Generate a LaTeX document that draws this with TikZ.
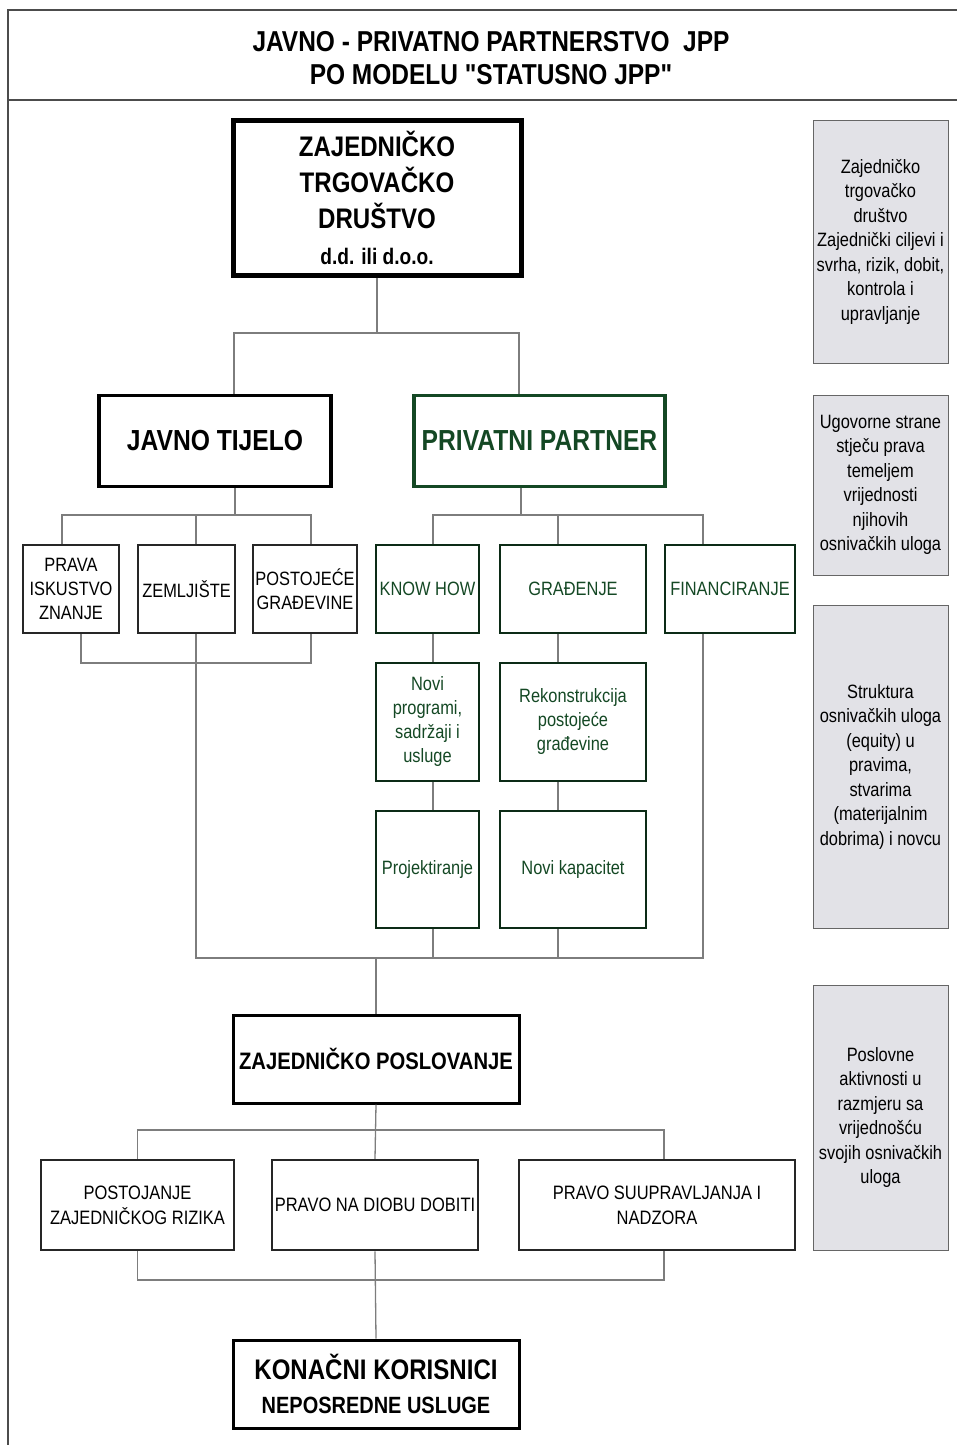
\documentclass[tikz,border=0pt]{standalone}
\usepackage{fontspec}
\setmainfont{Liberation Sans}[FakeStretch=0.85,Ligatures=TeXOff]
\usetikzlibrary{positioning}
\definecolor{ppgreen}{RGB}{20,72,36}
\definecolor{linkgray}{RGB}{125,125,125}
\definecolor{notefill}{RGB}{226,226,231}
\newcommand{\fs}[2]{\fontsize{#1}{#2}\selectfont}

\begin{document}
\begin{tikzpicture}[x=1pt,y=-1pt,
  link/.style={draw=linkgray,line width=1.3pt},
  box/.style={draw=black!85,line width=2pt,inner sep=1pt,align=center,font=\fs{19.3}{24}},
  gbox/.style={box,draw=ppgreen!60!black,text=ppgreen},
  head/.style={draw,line width=3.5pt,inner sep=1pt,align=center,font=\bfseries\fs{29}{34}},
  note/.style={draw=black!60,line width=1pt,fill=notefill,minimum width=135,align=center,font=\fs{19.3}{24.5}}]
\useasboundingbox (0,0) rectangle (957,1445);
% frame and title
\draw[black!70,line width=1.5pt] (957,10) -- (8,10) -- (8,1445);
\draw[black!70,line width=1.5pt] (8,100) -- (957,100);
\node[font=\bfseries\fs{28.8}{33},align=center] (title) at (491,58) {JAVNO - PRIVATNO PARTNERSTVO\ \ JPP\\PO MODELU "STATUSNO JPP"};

% company and founders
\node[head,line width=5pt,minimum width=288,minimum height=155,font=\bfseries\fs{28.3}{36}] (zto) at (377,197.5) {ZAJEDNIČKO\\TRGOVAČKO\\DRUŠTVO\\\fs{22.5}{35}d.d. ili d.o.o.};
\node[head,minimum width=232,minimum height=91] (jt) at (215,441) {JAVNO TIJELO};
\node[head,draw=ppgreen,text=ppgreen,minimum width=251,minimum height=91] (pp) at (539.5,441) {PRIVATNI PARTNER};

% public partner inputs
\node[box,minimum width=96,minimum height=88] (pis) at (71,589) {PRAVA\\ISKUSTVO\\ZNANJE};
\node[box,minimum width=97,minimum height=88] (zem) at (186.5,589) {ZEMLJIŠTE};
\node[box,minimum width=104,minimum height=88] (pgr) at (305,589) {POSTOJEĆE\\GRAĐEVINE};

% private partner inputs
\node[gbox,minimum width=103,minimum height=88] (kh) at (427.5,589) {KNOW HOW};
\node[gbox,minimum width=146,minimum height=88] (gr) at (573,589) {GRAĐENJE};
\node[gbox,minimum width=130,minimum height=88] (fin) at (730,589) {FINANCIRANJE};
\node[gbox,minimum width=103,minimum height=118,below=28pt of kh] (np) {Novi\\programi,\\sadržaji i\\usluge};
\node[gbox,minimum width=146,minimum height=118,below=28pt of gr] (rek) {Rekonstrukcija\\postojeće\\građevine};
\node[gbox,minimum width=103,minimum height=117,below=28pt of np] (pro) {Projektiranje};
\node[gbox,minimum width=146,minimum height=117,below=28pt of rek] (nk) {Novi kapacitet};

% joint business
\node[head,line width=3pt,minimum width=286,minimum height=88,font=\bfseries\fs{23.8}{30}] (zp) at (376,1059) {ZAJEDNIČKO POSLOVANJE};
\node[box,line width=2.5pt,minimum width=193,minimum height=90,font=\fs{19.4}{25}] (pzr) at (137.5,1205) {POSTOJANJE\\ZAJEDNIČKOG RIZIKA};
\node[box,line width=2.5pt,minimum width=206,minimum height=90,font=\fs{19.4}{25}] (pdd) at (375,1205) {PRAVO NA DIOBU DOBITI};
\node[box,line width=2.5pt,minimum width=276,minimum height=90,font=\fs{19.4}{25}] (psn) at (657,1205) {PRAVO SUUPRAVLJANJA I\\NADZORA};
\node[head,line width=3pt,minimum width=286,minimum height=88,font=\bfseries\fs{28.3}{34}] (kk) at (376,1384) {KONAČNI KORISNICI\\\fs{23.5}{34}NEPOSREDNE USLUGE};

% notes on the right
\node[note,minimum height=243] (n1) at (880.5,241.5) {Zajedničko\\trgovačko\\društvo\\Zajednički ciljevi i\\svrha, rizik, dobit,\\kontrola i\\upravljanje};
\node[note,minimum height=180] (n2) at (880.5,485) {Ugovorne strane\\stječu prava\\temeljem\\vrijednosti\\njihovih\\osnivačkih uloga};
\node[note,minimum height=323] (n3) at (880.5,766.5) {Struktura\\osnivačkih uloga\\(equity) u\\pravima,\\stvarima\\(materijalnim\\dobrima) i novcu};
\node[note,minimum height=265] (n4) at (880.5,1117.5) {Poslovne\\aktivnosti u\\razmjeru sa\\vrijednošću\\svojih osnivačkih\\uloga};

% junctions
\coordinate (busA) at (377,333);
\coordinate (busB) at (235,515);
\coordinate (busC) at (521,515);
\coordinate (busD) at (311,663);
\coordinate (busE) at (376,958);
\coordinate (busF) at (376,1130);
\coordinate (busG) at (376,1280);

% connectors
\draw[link] (zto.south) -- (busA);
\draw[link] ([xshift=19]jt.north) |- (busA) -| ([xshift=-20.5]pp.north);
\draw[link] ([xshift=20]jt.south) -- (busB);
\draw[link] ([xshift=-9]pis.north) |- (busB) -| ([xshift=6]pgr.north);
\draw[link] ([xshift=9.5]zem.north) -- ++(0,-30);
\draw[link] ([xshift=10]pis.south) |- (busD) -- ([xshift=6]pgr.south);
\draw[link] ([xshift=9.5]zem.south) |- (busE);
\draw[link] ([xshift=-18.5]pp.south) -- (busC);
\draw[link] ([xshift=5.5]kh.north) |- (busC) -| ([xshift=-27]fin.north);
\draw[link] ([xshift=-15]gr.north) -- ++(0,-30);
\draw[link] ([xshift=5.5]kh.south) -- ([xshift=5.5]np.north);
\draw[link] ([xshift=5.5]np.south) -- ([xshift=5.5]pro.north);
\draw[link] ([xshift=5.5]pro.south) -- ([xshift=5.5]pro.south |- busE);
\draw[link] ([xshift=-15]gr.south) -- ([xshift=-15]rek.north);
\draw[link] ([xshift=-15]rek.south) -- ([xshift=-15]nk.north);
\draw[link] ([xshift=-15]nk.south) -- ([xshift=-15]nk.south |- busE);
\draw[link] ([xshift=-27]fin.south) |- (busE);
\draw[link] (busE) -- (zp.north);
\draw[link] (zp.south) -- (pdd.north);
\draw[link] (pzr.north) |- (busF) -| ([xshift=7]psn.north);
\draw[link] (pzr.south) |- (busG) -| ([xshift=7]psn.south);
\draw[link] (pdd.south) -- (kk.north);
\end{tikzpicture}
\end{document}
